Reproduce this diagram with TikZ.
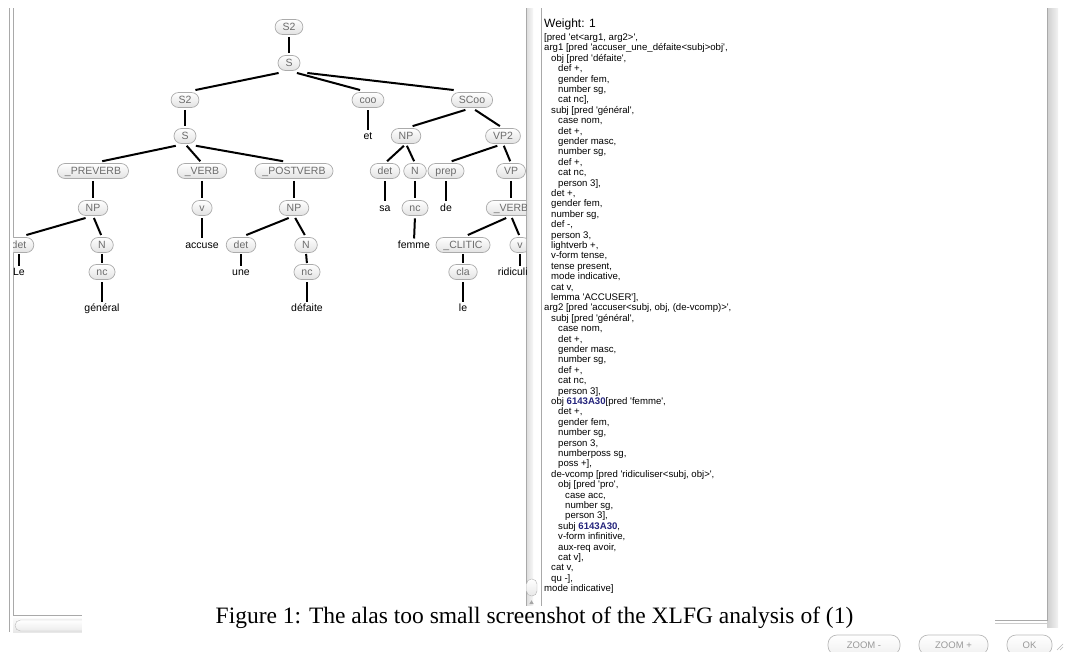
\documentclass[tikz,border=0pt]{standalone}
\usepackage{fontspec}
\setmainfont{Liberation Sans}
\newfontfamily\capfont{Liberation Serif}
\usetikzlibrary{calc}
\definecolor{pillborder}{HTML}{ABABAB}
\definecolor{pilltext}{HTML}{6C6C6C}
\definecolor{pillbot}{HTML}{E2E2E2}
\definecolor{framegray}{HTML}{A9A9A9}
\definecolor{idblue}{HTML}{24247C}
\newcommand\q{\textquotesingle}
\newcommand\idref{{\bfseries\color{idblue}6143A30}}
\newcommand\tedge[3][0.1]{\draw[edgeline] ($(#2.south)!#1!(#3.north)$) -- ($(#3.north)!#1!(#2.south)$);}
\newcommand\fl[3]{\node[fsline] (l#1) at ({544+7*#2},{40.5+10.4*(#1-2)}) {#3};}
\tikzset{
  pill/.style={draw=pillborder, line width=0.7pt, rounded corners=7.5pt,
    top color=white, bottom color=pillbot, minimum height=15pt,
    inner xsep=7.5pt, inner ysep=0pt, text height=7.6pt, text depth=0pt,
    font=\fontsize{10.5}{12}\selectfont, text=pilltext},
  leaf/.style={inner sep=0pt, text height=7.6pt, text depth=0pt,
    font=\fontsize{10.5}{12}\selectfont, text=black},
  edgeline/.style={line width=2pt, black},
  fsline/.style={anchor=base west, inner sep=0pt, font=\fontsize{9.6}{10}\selectfont},
  btn/.style={draw=gray!55, line width=0.7pt, rounded corners=9pt, top color=white,
    bottom color=gray!12, minimum height=20pt, inner sep=0pt,
    font=\fontsize{9.5}{10}\selectfont, text=gray!80},
  frameline/.style={draw=framegray, line width=0.7pt},
}
\begin{document}
\begin{tikzpicture}[x=1pt,y=-1pt]
\useasboundingbox (0,0) rectangle (1065,651);
\fill[white] (0,0) rectangle (1065,651);

% ---- window frames ----
\draw[frameline] (9.5,8) -- (9.5,632);
\draw[frameline] (13,8) -- (13,615) -- (526,615);
\shade[top color=gray!4, bottom color=gray!18] (13,618) rectangle (526,632);
\draw[draw=gray!55, top color=white, bottom color=gray!15, rounded corners=5.5pt] (15,620) rectangle (140,631);
% vertical divider with scrollbar
\shade[left color=gray!28, right color=gray!6] (526,8) rectangle (533,617);
\draw[frameline] (526,8) -- (526,617);
\draw[frameline] (541,8) -- (541,620);
\draw[draw=gray!60, top color=white, bottom color=gray!18, rounded corners=5pt] (526.5,579) rectangle (537,596);
\fill[gray!70] (529.3,604) -- (533.7,604) -- (531.5,600.3) -- cycle;
% right panel
\shade[left color=gray!38, right color=gray!10] (1047,8) rectangle (1058,627);
\draw[frameline] (1047,8) -- (1047,620) -- (541,620);
\draw[draw=gray!40] (541,623.5) -- (1047,623.5);

% ---- tree ----
\begin{scope}
\clip (13.6,8) rectangle (526,614);
\node[pill] (S2a) at (289,27) {S2};
\node[pill] (Sa) at (289,63) {S};
\node[pill] (S2b) at (185,100) {S2};
\node[pill] (coo) at (368,100) {coo};
\node[pill] (SCoo) at (472,100) {SCoo};
\node[leaf] (et) at (368,136) {et};
\node[pill] (Sb) at (185,136) {S};
\node[pill] (NPc) at (406,136) {NP};
\node[pill] (VPtwo) at (503,136) {VP2};
\node[pill] (PREVERB) at (93,171) {\_PREVERB};
\node[pill] (VERB) at (202,171) {\_VERB};
\node[pill] (POSTVERB) at (294,171) {\_POSTVERB};
\node[pill] (detc) at (385,171) {det};
\node[pill] (Nc) at (415,171) {N};
\node[pill] (prep) at (446,171) {prep};
\node[pill] (VP) at (511,171) {VP};
\node[pill] (NPa) at (93,208) {NP};
\node[pill] (va) at (202,208) {v};
\node[pill] (NPb) at (294,208) {NP};
\node[leaf] (sa) at (385,208) {sa};
\node[pill] (ncc) at (415,208) {nc};
\node[leaf] (de) at (446,208) {de};
\node[pill] (VERBc) at (511,208) {\_VERB};
\node[pill] (deta) at (19,245) {det};
\node[pill] (Na) at (102,245) {N};
\node[leaf] (accuse) at (202,245) {accuse};
\node[pill] (detb) at (241,245) {det};
\node[pill] (Nb) at (306,245) {N};
\node[leaf] (femme) at (414,245) {femme};
\node[pill] (CLITIC) at (463,245) {\_CLITIC};
\node[pill] (vc) at (520,245) {v};
\node[leaf] (Le) at (19,272) {Le};
\node[pill] (nca) at (102,272) {nc};
\node[leaf] (une) at (241,272) {une};
\node[pill] (ncb) at (307,272) {nc};
\node[pill] (cla) at (463,272) {cla};
\node[leaf] (ridic) at (520,272) {ridiculiser};
\node[leaf] (gen) at (102,308) {général};
\node[leaf] (defaite) at (307,308) {défaite};
\node[leaf] (le) at (463,308) {le};

\tedge{S2a}{Sa}
\tedge{Sa}{S2b} \tedge{Sa}{coo} \tedge{Sa}{SCoo}
\tedge{S2b}{Sb} \tedge{coo}{et}
\tedge{SCoo}{NPc} \tedge{SCoo}{VPtwo}
\tedge{Sb}{PREVERB} \tedge{Sb}{VERB} \tedge{Sb}{POSTVERB}
\tedge{NPc}{detc} \tedge{NPc}{Nc}
\tedge{VPtwo}{prep} \tedge{VPtwo}{VP}
\tedge{PREVERB}{NPa} \tedge{VERB}{va} \tedge{POSTVERB}{NPb}
\tedge{detc}{sa} \tedge{Nc}{ncc} \tedge{prep}{de} \tedge{VP}{VERBc}
\tedge{NPa}{deta} \tedge{NPa}{Na} \tedge{va}{accuse}
\tedge{NPb}{detb} \tedge{NPb}{Nb} \tedge{ncc}{femme}
\tedge{VERBc}{CLITIC} \tedge{VERBc}{vc}
\tedge{deta}{Le} \tedge{Na}{nca} \tedge{detb}{une} \tedge{Nb}{ncb}
\tedge{CLITIC}{cla} \tedge{vc}{ridic}
\tedge{nca}{gen} \tedge{ncb}{defaite} \tedge{cla}{le}
\end{scope}

% ---- feature structure ----
\node[anchor=base west, inner sep=0pt, font=\fontsize{12}{13}\selectfont] (weight) at (544,27.5) {Weight: 1};
\fl{2}{0}{[pred \q et<arg1, arg2>\q,}
\fl{3}{0}{arg1 [pred \q accuser\_une\_défaite<subj>obj\q,}
\fl{4}{1}{obj [pred \q défaite\q,}
\fl{5}{2}{def +,}
\fl{6}{2}{gender fem,}
\fl{7}{2}{number sg,}
\fl{8}{2}{cat nc],}
\fl{9}{1}{subj [pred \q général\q,}
\fl{10}{2}{case nom,}
\fl{11}{2}{det +,}
\fl{12}{2}{gender masc,}
\fl{13}{2}{number sg,}
\fl{14}{2}{def +,}
\fl{15}{2}{cat nc,}
\fl{16}{2}{person 3],}
\fl{17}{1}{det +,}
\fl{18}{1}{gender fem,}
\fl{19}{1}{number sg,}
\fl{20}{1}{def -,}
\fl{21}{1}{person 3,}
\fl{22}{1}{lightverb +,}
\fl{23}{1}{v-form tense,}
\fl{24}{1}{tense present,}
\fl{25}{1}{mode indicative,}
\fl{26}{1}{cat v,}
\fl{27}{1}{lemma \q ACCUSER\q],}
\fl{28}{0}{arg2 [pred \q accuser<subj, obj, (de-vcomp)>\q,}
\fl{29}{1}{subj [pred \q général\q,}
\fl{30}{2}{case nom,}
\fl{31}{2}{det +,}
\fl{32}{2}{gender masc,}
\fl{33}{2}{number sg,}
\fl{34}{2}{def +,}
\fl{35}{2}{cat nc,}
\fl{36}{2}{person 3],}
\fl{37}{1}{obj \idref[pred \q femme\q,}
\fl{38}{2}{det +,}
\fl{39}{2}{gender fem,}
\fl{40}{2}{number sg,}
\fl{41}{2}{person 3,}
\fl{42}{2}{numberposs sg,}
\fl{43}{2}{poss +],}
\fl{44}{1}{de-vcomp [pred \q ridiculiser<subj, obj>\q,}
\fl{45}{2}{obj [pred \q pro\q,}
\fl{46}{3}{case acc,}
\fl{47}{3}{number sg,}
\fl{48}{3}{person 3],}
\fl{49}{2}{subj \idref,}
\fl{50}{2}{v-form infinitive,}
\fl{51}{2}{aux-req avoir,}
\fl{52}{2}{cat v],}
\fl{53}{1}{cat v,}
\fl{54}{1}{qu -],}
\fl{55}{0}{mode indicative]}

% ---- caption overlay ----
\fill[white] (82,606) rectangle (995,633);
\node[anchor=base, inner sep=0pt, font=\capfont\fontsize{23.5}{26}\selectfont] (cap) at (534.5,623)
  {Figure 1: The alas too small screenshot of the XLFG analysis of (1)};

% ---- buttons ----
\node[btn, minimum width=72pt] (zminus) at (864,645) {ZOOM -};
\node[btn, minimum width=69pt] (zplus) at (953.5,645) {ZOOM +};
\node[btn, minimum width=45pt] (ok) at (1029.5,645) {OK};
\draw[gray!55, line width=0.6pt] (1057,650) -- (1063,644) (1060,650) -- (1063,647);
\end{tikzpicture}
\end{document}
